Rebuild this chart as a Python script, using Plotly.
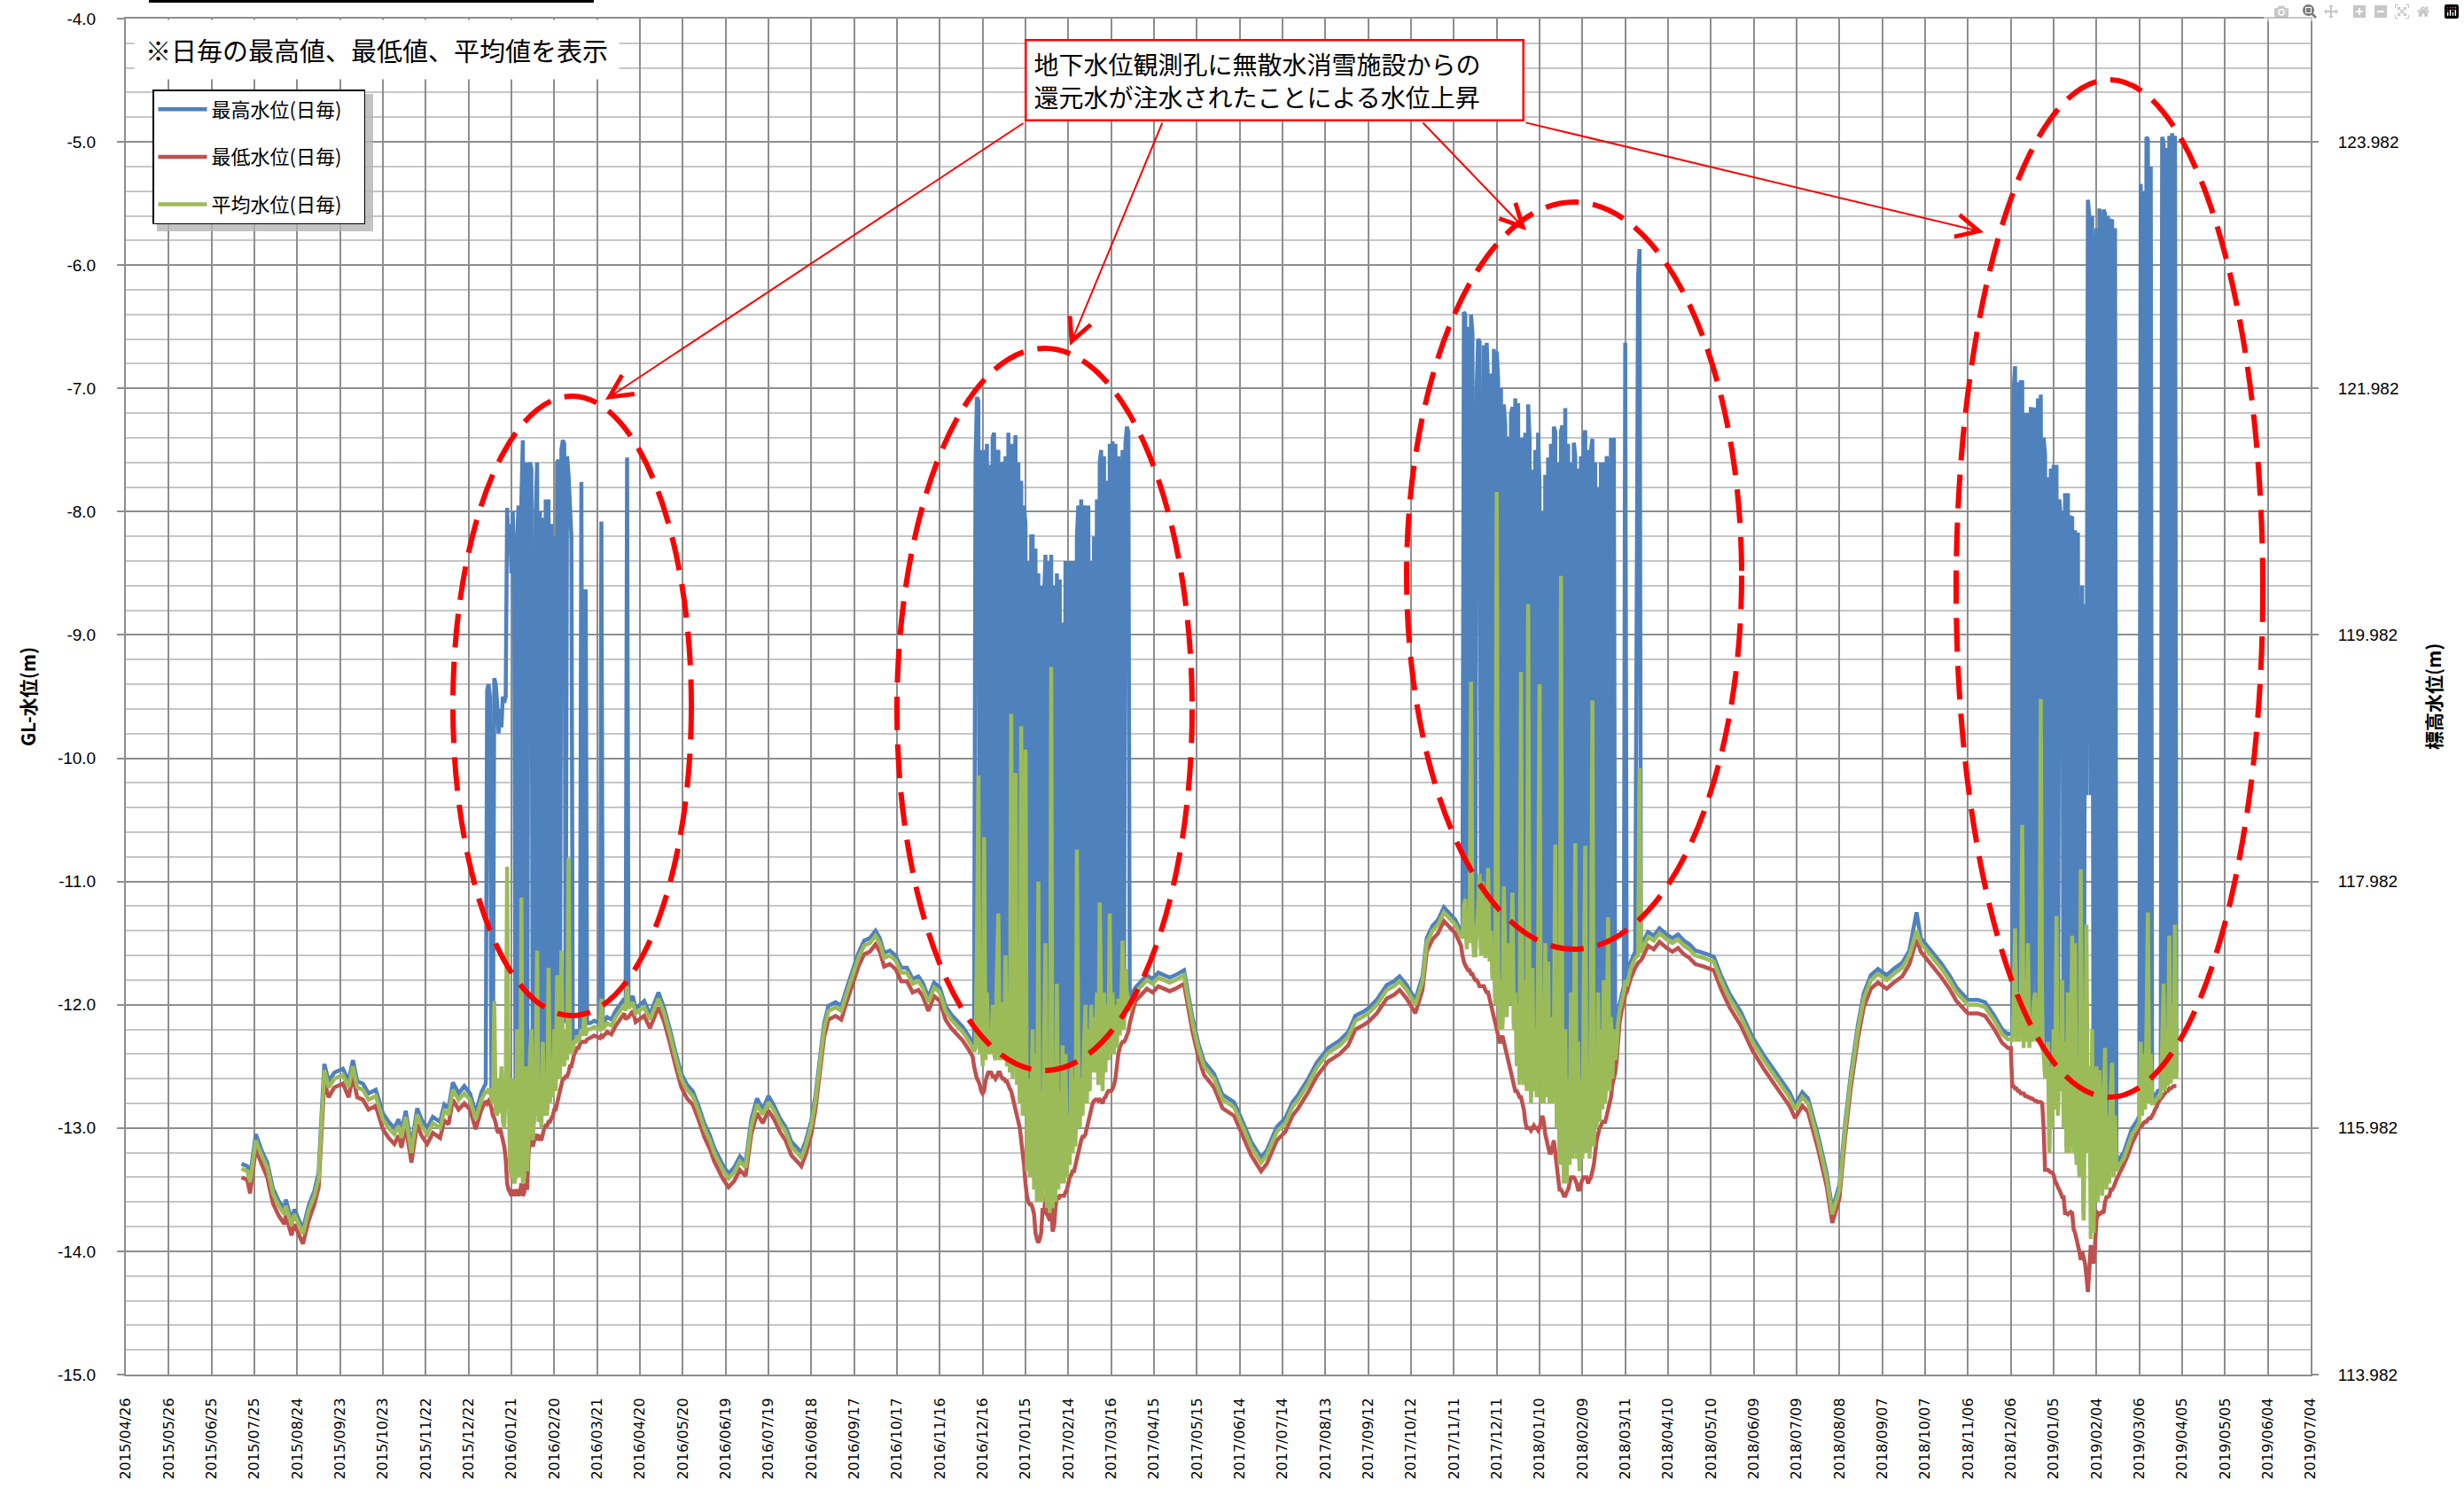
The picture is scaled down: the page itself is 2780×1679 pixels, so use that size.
import pandas as pd
import plotly.graph_objects as go

# ---------------- data (days counted from 2015/04/26) ----------------
BASE_DATE = "2015-04-26"
AXIS_END = "2019-07-04"

# calm period 2015/07 - 2016/01
days_a = [81, 85, 87, 91, 95, 99, 103, 107, 111, 112, 116, 118, 124, 128, 132, 135, 137, 139, 142, 146,
          152, 156, 159, 162, 166, 170, 175, 180, 184, 188, 191, 193, 196, 200, 204, 207, 211, 215, 220, 223,
          226, 229, 233, 237, 241, 245, 249]
max_a = [-13.29, -13.31, -13.39, -13.05, -13.18, -13.28, -13.49, -13.59, -13.66, -13.58, -13.75, -13.66, -13.82,
         -13.63, -13.51, -13.36, -12.90, -12.48, -12.62, -12.55, -12.52, -12.62, -12.45, -12.62, -12.64, -12.72,
         -12.69, -12.88, -12.95, -13.00, -12.93, -13.03, -12.86, -13.15, -12.84, -12.93, -13.00, -12.91, -12.95,
         -12.81, -12.84, -12.63, -12.72, -12.66, -12.72, -12.88, -12.71]
avg_a = [-13.33, -13.35, -13.44, -13.10, -13.22, -13.32, -13.53, -13.63, -13.70, -13.63, -13.79, -13.70, -13.86,
         -13.67, -13.55, -13.41, -12.96, -12.53, -12.67, -12.60, -12.57, -12.67, -12.50, -12.67, -12.69, -12.77,
         -12.74, -12.93, -13.00, -13.05, -12.98, -13.08, -12.91, -13.20, -12.89, -12.98, -13.05, -12.96, -13.00,
         -12.86, -12.89, -12.69, -12.77, -12.72, -12.77, -12.93, -12.77]
min_a = [-13.40, -13.42, -13.53, -13.17, -13.29, -13.40, -13.61, -13.71, -13.78, -13.71, -13.87, -13.78, -13.94,
         -13.75, -13.62, -13.48, -13.05, -12.62, -12.75, -12.67, -12.64, -12.75, -12.58, -12.75, -12.77, -12.85,
         -12.82, -13.01, -13.08, -13.13, -13.06, -13.16, -12.99, -13.28, -12.97, -13.06, -13.13, -13.04, -13.08,
         -12.94, -12.97, -12.77, -12.85, -12.80, -12.85, -13.01, -12.85]

# injection period 1 (2016/01 - 2016/04)
days_r1 = list(range(252, 324)) + [325, 328, 332, 333, 334, 337, 340, 343, 346, 349, 350, 351, 352]
max_r1 = [-12.64, -9.45, -9.40, -9.50, -12.68, -12.74, -9.35, -9.40, -9.55, -9.80,
          -9.60, -9.75, -9.50, -9.55, -9.50, -7.97, -8.30, -8.10, -8.50, -8.00,
          -8.83, -13.35, -8.20, -7.95, -13.25, -7.90, -7.42, -13.35, -7.60, -13.30,
          -7.65, -7.60, -7.65, -13.05, -12.85, -8.00, -7.60, -12.90, -8.00, -12.95,
          -8.05, -12.85, -7.90, -12.85, -7.90, -12.75, -8.10, -12.70, -8.20, -12.65,
          -7.60, -7.58, -12.55, -7.50, -7.42, -7.45, -12.15, -7.55, -7.70, -7.95,
          -8.20, -12.30, -12.25, -12.25, -12.20, -12.25, -12.20, -7.76, -12.20, -12.00,
          -8.63, -12.15,
          -12.15, -12.13, -12.15, -8.08, -12.15, -12.10, -12.12, -12.05, -12.00, -11.95, -12.00, -7.56, -11.98]
avg_r1 = [-12.70, -12.72, -12.68, -12.70, -12.75, -12.80, -11.97, -12.85, -12.90, -12.60,
          -12.88, -12.50, -12.95, -13.00, -12.70, -10.88, -12.60, -13.30, -13.40, -12.60,
          -13.45, -13.40, -12.20, -13.40, -13.30, -11.13, -13.45, -13.40, -12.50, -13.35,
          -13.10, -12.40, -12.20, -13.10, -12.90, -12.60, -11.56, -12.95, -12.80, -13.00,
          -12.30, -12.90, -12.70, -12.90, -11.70, -12.80, -12.50, -12.75, -12.20, -12.70,
          -11.76, -12.50, -12.60, -11.56, -12.40, -12.50, -12.20, -12.45, -10.81, -12.30,
          -12.40, -12.35, -12.30, -12.30, -12.25, -12.30, -12.25, -12.20, -12.25, -12.06,
          -12.25, -12.20,
          -12.20, -12.18, -12.20, -11.95, -12.20, -12.15, -12.17, -12.10, -12.05, -12.00, -12.05, -11.85, -12.03]
min_r1 = [-12.78, -12.80, -12.78, -12.80, -12.84, -12.90, -12.92, -12.96, -13.02, -13.04,
          -13.00, -13.05, -13.10, -13.15, -13.25, -13.45, -13.50, -13.52, -13.55, -13.50,
          -13.55, -13.52, -13.50, -13.55, -13.52, -13.45, -13.55, -13.52, -13.45, -13.50,
          -13.20, -13.10, -13.05, -13.15, -13.10, -13.08, -13.05, -13.10, -13.08, -13.10,
          -13.05, -13.00, -12.98, -12.98, -12.95, -12.95, -12.92, -12.90, -12.85, -12.85,
          -12.80, -12.75, -12.70, -12.65, -12.60, -12.60, -12.58, -12.58, -12.55, -12.50,
          -12.50, -12.45, -12.40, -12.38, -12.35, -12.35, -12.32, -12.30, -12.30, -12.30,
          -12.30, -12.28,
          -12.27, -12.25, -12.27, -12.25, -12.26, -12.22, -12.24, -12.17, -12.12, -12.07, -12.12, -12.10, -12.10]

# calm period 2016/04 - 2016/12
days_b = [355, 357, 363, 367, 373, 377, 381, 385, 389, 393, 397, 401, 405, 409, 412, 418, 422, 426, 430, 434,
          438, 442, 446, 450, 454, 458, 462, 466, 470, 473, 476, 480, 483, 486, 489, 492, 497, 501, 505, 509,
          513, 517, 521, 525, 528, 531, 535, 539, 543, 547, 551, 555, 558, 562, 566, 570, 574, 578, 582, 586,
          590, 593]
max_b = [-11.93, -12.03, -11.97, -12.08, -11.90, -12.03, -12.20, -12.39, -12.56, -12.65, -12.70, -12.82, -12.96,
         -13.06, -13.16, -13.30, -13.37, -13.32, -13.23, -13.28, -12.93, -12.76, -12.85, -12.74, -12.82, -12.92,
         -12.99, -13.11, -13.16, -13.20, -13.11, -12.94, -12.73, -12.44, -12.15, -12.01, -11.98, -12.01, -11.86,
         -11.72, -11.58, -11.48, -11.46, -11.40, -11.46, -11.58, -11.56, -11.60, -11.70, -11.70, -11.79, -11.77,
         -11.82, -11.94, -11.82, -11.86, -12.01, -12.08, -12.13, -12.18, -12.25, -12.31]
avg_b = [-11.98, -12.07, -12.02, -12.12, -11.95, -12.07, -12.24, -12.43, -12.60, -12.69, -12.74, -12.86, -13.00,
         -13.10, -13.20, -13.34, -13.41, -13.36, -13.27, -13.32, -12.98, -12.81, -12.89, -12.79, -12.86, -12.96,
         -13.03, -13.15, -13.20, -13.24, -13.15, -12.98, -12.77, -12.48, -12.19, -12.05, -12.02, -12.05, -11.90,
         -11.76, -11.62, -11.52, -11.50, -11.44, -11.50, -11.62, -11.60, -11.64, -11.74, -11.74, -11.83, -11.81,
         -11.86, -11.98, -11.86, -11.90, -12.05, -12.12, -12.17, -12.22, -12.29, -12.35]
min_b = [-12.05, -12.14, -12.09, -12.19, -12.02, -12.14, -12.31, -12.50, -12.67, -12.76, -12.81, -12.93, -13.07,
         -13.17, -13.27, -13.41, -13.48, -13.43, -13.34, -13.39, -13.05, -12.88, -12.96, -12.86, -12.93, -13.03,
         -13.10, -13.22, -13.27, -13.31, -13.22, -13.05, -12.84, -12.55, -12.26, -12.12, -12.09, -12.12, -11.97,
         -11.83, -11.69, -11.59, -11.57, -11.51, -11.57, -11.69, -11.67, -11.71, -11.81, -11.81, -11.90, -11.88,
         -11.93, -12.05, -11.93, -11.97, -12.12, -12.19, -12.24, -12.29, -12.36, -12.42]

# injection period 2 (2016/12 - 2017/03)
days_r2 = list(range(594, 704))
max_r2 = [-12.30, -7.60, -7.07, -7.10, -12.35, -7.50, -12.45, -7.50, -12.40, -7.45,
          -12.35, -7.62, -12.35, -7.40, -7.36, -12.40, -7.55, -7.50, -12.40, -7.60,
          -7.62, -12.40, -7.55, -12.45, -7.36, -12.50, -7.45, -12.50, -7.80, -7.38,
          -12.60, -7.60, -12.70, -7.75, -12.80, -7.95, -8.10, -13.25, -8.40, -13.30,
          -8.20, -8.20, -13.40, -8.30, -13.50, -8.50, -13.50, -8.60, -13.50, -8.70,
          -8.35, -13.55, -8.40, -13.60, -8.35, -13.55, -8.60, -13.50, -8.50, -13.40,
          -8.55, -13.35, -8.90, -13.35, -8.40, -13.30, -8.40, -13.20, -8.40, -13.10,
          -8.40, -13.05, -8.20, -7.95, -12.90, -7.90, -12.80, -7.95, -8.00, -12.70,
          -7.95, -12.60, -8.40, -12.45, -8.20, -12.45, -7.90, -12.55, -7.60, -7.50,
          -12.60, -7.55, -12.45, -7.75, -12.35, -7.45, -12.30, -7.43, -12.30, -7.45,
          -12.25, -7.55, -12.15, -8.00, -7.50, -12.10, -7.45, -7.31, -7.35, -11.95]
avg_r2 = [-12.38, -12.35, -11.50, -10.14, -12.40, -12.00, -12.50, -10.64, -12.45, -11.90,
          -12.40, -12.20, -12.40, -12.00, -12.40, -12.45, -11.70, -11.26, -12.45, -12.10,
          -11.98, -12.45, -11.60, -12.50, -11.90, -12.55, -9.64, -12.60, -11.80, -10.12,
          -12.65, -11.90, -12.80, -9.74, -12.90, -12.20, -9.93, -13.35, -12.60, -13.40,
          -12.90, -12.20, -13.50, -12.40, -13.60, -11.00, -13.60, -12.70, -13.60, -12.30,
          -11.50, -13.65, -12.80, -13.69, -9.26, -13.65, -12.50, -13.60, -11.83, -13.50,
          -12.70, -13.45, -12.33, -13.45, -12.40, -13.40, -12.90, -13.30, -12.50, -13.20,
          -12.60, -13.15, -10.74, -12.40, -13.00, -12.60, -12.90, -12.30, -12.00, -12.80,
          -12.20, -12.70, -12.00, -12.55, -12.10, -12.55, -11.90, -12.65, -11.17, -12.00,
          -12.70, -11.90, -12.55, -12.00, -12.45, -11.26, -12.40, -11.90, -12.40, -12.00,
          -12.35, -11.95, -12.25, -12.00, -11.48, -12.20, -11.71, -11.90, -11.95, -12.05]
min_r2 = [-12.50, -12.55, -12.60, -12.62, -12.65, -12.70, -12.72, -12.70, -12.62, -12.58,
          -12.55, -12.55, -12.55, -12.58, -12.58, -12.60, -12.58, -12.55, -12.55, -12.58,
          -12.60, -12.60, -12.62, -12.62, -12.65, -12.68, -12.70, -12.75, -12.80, -12.85,
          -12.90, -12.95, -13.00, -13.10, -13.20, -13.30, -13.45, -13.55, -13.60, -13.62,
          -13.62, -13.65, -13.70, -13.85, -13.90, -13.93, -13.90, -13.85, -13.65, -13.70,
          -13.55, -13.70, -13.72, -13.75, -13.60, -13.84, -13.80, -13.65, -13.55, -13.58,
          -13.55, -13.55, -13.55, -13.55, -13.52, -13.50, -13.45, -13.40, -13.38, -13.35,
          -13.35, -13.30, -13.25, -13.20, -13.15, -13.10, -13.07, -13.07, -13.05, -13.00,
          -12.95, -12.90, -12.85, -12.80, -12.78, -12.77, -12.77, -12.78, -12.77, -12.78,
          -12.80, -12.76, -12.75, -12.72, -12.70, -12.70, -12.70, -12.68, -12.65, -12.60,
          -12.50, -12.40, -12.35, -12.32, -12.30, -12.30, -12.28, -12.25, -12.22, -12.15]

# calm period 2017/04 - 2017/11
days_c = [707, 711, 715, 719, 723, 727, 731, 735, 741, 747, 751, 755, 762, 768, 776, 781, 788, 795, 799, 806,
          812, 817, 821, 828, 834, 842, 850, 856, 861, 866, 870, 876, 883, 888, 892, 897, 903, 908, 911, 915,
          919, 923, 927, 931, 935]
max_c = [-11.86, -11.81, -11.76, -11.79, -11.74, -11.76, -11.78, -11.76, -11.72, -12.11, -12.31, -12.46, -12.56,
         -12.73, -12.79, -12.92, -13.11, -13.24, -13.18, -12.99, -12.92, -12.79, -12.73, -12.60, -12.47, -12.35,
         -12.29, -12.22, -12.09, -12.06, -12.03, -11.96, -11.84, -11.81, -11.77, -11.84, -11.96, -11.77, -11.46,
         -11.36, -11.31, -11.21, -11.26, -11.31, -11.41]
avg_c = [-11.90, -11.85, -11.80, -11.83, -11.78, -11.80, -11.82, -11.80, -11.76, -12.15, -12.35, -12.50, -12.60,
         -12.77, -12.83, -12.96, -13.15, -13.28, -13.22, -13.03, -12.96, -12.83, -12.77, -12.64, -12.51, -12.39,
         -12.33, -12.26, -12.13, -12.10, -12.07, -12.00, -11.88, -11.85, -11.81, -11.88, -12.00, -11.81, -11.50,
         -11.40, -11.35, -11.25, -11.30, -11.35, -11.45]
min_c = [-11.97, -11.92, -11.87, -11.90, -11.85, -11.87, -11.89, -11.87, -11.83, -12.22, -12.42, -12.57, -12.67,
         -12.84, -12.90, -13.03, -13.22, -13.35, -13.29, -13.10, -13.03, -12.90, -12.84, -12.71, -12.58, -12.46,
         -12.40, -12.33, -12.20, -12.17, -12.14, -12.07, -11.95, -11.92, -11.88, -11.95, -12.07, -11.88, -11.57,
         -11.47, -11.42, -11.32, -11.37, -11.42, -11.52]

# injection period 3 (2017/11 - 2018/03)
days_r3 = list(range(936, 1052)) + [1054, 1057, 1059, 1060, 1061, 1062]
max_r3 = [-11.40, -6.38, -6.40, -11.50, -6.50, -11.45, -6.40, -6.55, -10.10, -11.45,
          -7.00, -6.60, -6.62, -11.55, -10.10, -6.65, -11.57, -6.63, -7.00, -11.60,
          -6.88, -11.75, -6.68, -11.95, -6.70, -6.93, -12.15, -7.00, -12.15, -7.13,
          -7.30, -12.05, -7.39, -11.95, -7.21, -7.15, -12.15, -7.08, -12.45, -7.12,
          -12.60, -7.50, -7.40, -12.60, -7.36, -12.65, -7.13, -7.40, -12.75, -7.66,
          -12.65, -7.50, -12.70, -7.36, -7.80, -12.75, -8.00, -11.95, -7.70, -12.70,
          -7.56, -12.75, -7.45, -12.75, -7.31, -7.35, -12.95, -7.60, -13.25, -7.35,
          -7.30, -13.40, -7.16, -13.40, -7.45, -13.25, -7.60, -13.20, -7.44, -7.55,
          -13.20, -7.65, -13.30, -7.55, -13.20, -7.40, -7.34, -13.15, -7.50, -13.20,
          -7.50, -7.41, -13.10, -7.60, -12.95, -7.80, -12.90, -7.60, -12.80, -7.60,
          -12.75, -7.55, -7.70, -12.65, -7.40, -12.55, -7.40, -12.40, -12.30, -12.10,
          -12.00, -11.95, -11.90, -11.85, -6.63, -11.80,
          -11.65, -11.57, -6.10, -5.87, -11.53, -11.50]
avg_r3 = [-11.45, -11.20, -11.14, -11.55, -11.30, -11.50, -9.38, -11.30, -11.60, -11.60,
          -11.40, -11.20, -10.94, -11.60, -11.00, -11.30, -11.62, -11.40, -10.89, -11.65,
          -11.40, -11.80, -11.60, -12.00, -7.84, -11.70, -12.20, -11.80, -12.20, -11.04,
          -11.60, -12.10, -11.50, -12.00, -11.60, -11.09, -12.20, -11.90, -12.50, -12.00,
          -12.65, -9.30, -12.10, -12.65, -11.80, -12.70, -8.75, -12.10, -12.80, -11.70,
          -12.70, -12.20, -12.75, -11.60, -9.40, -12.80, -12.00, -12.80, -11.50, -12.75,
          -11.65, -12.80, -12.10, -12.80, -12.30, -10.70, -13.00, -12.40, -13.30, -8.52,
          -12.50, -13.45, -12.20, -13.45, -12.60, -13.30, -11.90, -13.25, -12.40, -10.69,
          -13.25, -12.30, -13.35, -12.60, -13.25, -11.80, -10.71, -13.20, -12.50, -13.25,
          -12.00, -9.53, -13.15, -12.40, -13.00, -11.90, -12.95, -12.20, -12.85, -11.80,
          -12.80, -12.30, -11.29, -12.70, -12.10, -12.60, -12.20, -12.45, -12.35, -12.15,
          -12.05, -12.00, -11.95, -11.90, -11.80, -11.85,
          -11.70, -11.62, -11.60, -10.08, -11.58, -11.55]
min_r3 = [-11.60, -11.65, -11.68, -11.70, -11.72, -11.72, -11.75, -11.75, -11.78, -11.80,
          -11.80, -11.82, -11.85, -11.85, -11.85, -11.85, -11.88, -11.90, -11.90, -11.95,
          -12.00, -12.05, -12.10, -12.15, -12.20, -12.25, -12.30, -12.30, -12.25, -12.30,
          -12.35, -12.40, -12.45, -12.50, -12.55, -12.60, -12.65, -12.70, -12.70, -12.72,
          -12.75, -12.75, -12.80, -12.85, -12.95, -13.00, -13.00, -13.00, -13.02, -13.00,
          -12.98, -13.00, -13.00, -13.02, -13.00, -12.95, -12.90, -12.95, -13.05, -13.10,
          -13.15, -13.20, -13.20, -13.15, -13.10, -13.20, -13.30, -13.40, -13.50, -13.50,
          -13.52, -13.55, -13.55, -13.52, -13.50, -13.45, -13.40, -13.40, -13.40, -13.42,
          -13.45, -13.50, -13.50, -13.45, -13.42, -13.40, -13.40, -13.40, -13.45, -13.42,
          -13.40, -13.35, -13.30, -13.20, -13.10, -13.05, -13.00, -12.98, -12.95, -12.95,
          -12.95, -12.90, -12.85, -12.80, -12.75, -12.65, -12.60, -12.55, -12.45, -12.30,
          -12.15, -12.08, -12.02, -11.98, -11.92, -11.90,
          -11.78, -11.70, -11.66, -11.65, -11.64, -11.62]

# calm period 2018/03 - 2018/12
days_d = [1066, 1070, 1074, 1079, 1083, 1087, 1091, 1095, 1099, 1105, 1112, 1117, 1123, 1131, 1139, 1147, 1156,
          1165, 1169, 1174, 1178, 1185, 1191, 1195, 1200, 1204, 1208, 1213, 1217, 1222, 1227, 1233, 1238, 1244,
          1249, 1254, 1257, 1264, 1271, 1277, 1282, 1290, 1297, 1302, 1308, 1314, 1318]
max_d = [-11.41, -11.44, -11.38, -11.43, -11.46, -11.43, -11.48, -11.51, -11.56, -11.58, -11.61, -11.76, -11.91,
         -12.06, -12.26, -12.41, -12.56, -12.71, -12.81, -12.71, -12.76, -13.06, -13.36, -13.66, -13.46, -12.96,
         -12.56, -12.16, -11.91, -11.76, -11.71, -11.76, -11.71, -11.66, -11.56, -11.25, -11.46, -11.56, -11.66,
         -11.76, -11.86, -11.96, -11.96, -11.98, -12.08, -12.20, -12.24]
avg_d = [-11.45, -11.48, -11.42, -11.47, -11.50, -11.47, -11.52, -11.55, -11.60, -11.62, -11.65, -11.80, -11.95,
         -12.10, -12.30, -12.45, -12.60, -12.75, -12.85, -12.75, -12.80, -13.10, -13.40, -13.70, -13.50, -13.00,
         -12.60, -12.20, -11.95, -11.80, -11.75, -11.80, -11.75, -11.70, -11.60, -11.40, -11.50, -11.60, -11.70,
         -11.80, -11.90, -12.00, -12.00, -12.02, -12.12, -12.24, -12.28]
min_d = [-11.52, -11.55, -11.49, -11.54, -11.57, -11.54, -11.59, -11.62, -11.67, -11.69, -11.72, -11.87, -12.02,
         -12.17, -12.37, -12.52, -12.67, -12.82, -12.92, -12.82, -12.87, -13.17, -13.47, -13.77, -13.57, -13.07,
         -12.67, -12.27, -12.02, -11.87, -11.82, -11.87, -11.82, -11.77, -11.67, -11.47, -11.57, -11.67, -11.77,
         -11.87, -11.97, -12.07, -12.07, -12.09, -12.19, -12.31, -12.35]

# injection period 4 (2018/12 - 2019/04)
days_r4 = list(range(1320, 1395)) + [1396, 1399, 1402, 1405, 1408] + list(range(1410, 1437))
max_r4 = [-12.23, -12.25, -7.00, -6.82, -12.25, -6.95, -12.25, -6.95, -6.95, -12.30,
          -7.20, -12.25, -7.20, -12.30, -7.15, -12.25, -7.17, -7.17, -12.25, -7.08,
          -12.25, -7.05, -12.30, -7.40, -7.53, -12.40, -7.72, -13.15, -7.65, -12.95,
          -7.62, -12.80, -7.62, -12.85, -7.90, -8.04, -8.00, -12.90, -7.85, -13.15,
          -7.85, -13.15, -8.05, -8.04, -13.15, -8.15, -13.25, -8.17, -13.35, -9.80,
          -8.60, -13.70, -8.75, -10.30, -5.47, -5.60, -10.30, -5.60, -13.80, -6.10,
          -5.70, -13.55, -5.54, -5.89, -13.50, -5.55, -5.58, -13.45, -5.60, -13.40,
          -5.65, -5.63, -13.35, -5.70, -13.30,
          -13.25, -13.20, -13.10, -13.00, -12.95,
          -12.90, -5.34, -12.85, -5.40, -12.80, -4.96, -4.98, -12.75, -5.20, -12.75,
          -12.75, -12.73, -12.72, -12.70, -12.70, -12.68, -4.96, -5.00, -12.65, -5.05,
          -12.61, -4.95, -12.59, -4.93, -12.55, -4.95, -12.55]
avg_r4 = [-12.28, -12.30, -12.00, -11.38, -12.30, -11.90, -12.30, -12.00, -10.54, -12.35,
          -11.80, -12.30, -11.50, -12.35, -12.10, -12.30, -12.00, -11.90, -12.30, -11.95,
          -12.30, -9.52, -12.35, -12.40, -12.60, -12.45, -12.30, -13.20, -12.50, -13.00,
          -12.20, -12.85, -11.28, -12.90, -12.40, -12.70, -11.80, -13.00, -12.30, -13.20,
          -11.90, -13.20, -12.50, -11.44, -13.20, -11.50, -13.30, -12.40, -13.40, -10.90,
          -12.80, -13.75, -12.60, -11.35, -13.20, -12.50, -13.90, -12.20, -13.85, -12.90,
          -12.50, -13.60, -12.53, -13.00, -13.55, -12.80, -12.35, -13.50, -12.90, -13.45,
          -12.70, -12.47, -13.40, -12.90, -13.35,
          -13.30, -13.25, -13.15, -13.05, -13.00,
          -12.95, -12.30, -12.90, -12.40, -12.85, -12.20, -11.25, -12.80, -12.40, -12.80,
          -12.80, -12.78, -12.77, -12.75, -12.75, -12.73, -12.30, -11.83, -12.70, -12.20,
          -12.66, -11.44, -12.64, -12.00, -12.60, -11.35, -12.60]
min_r4 = [-12.35, -12.66, -12.66, -12.68, -12.68, -12.70, -12.70, -12.72, -12.72, -12.72,
          -12.74, -12.74, -12.75, -12.75, -12.76, -12.76, -12.77, -12.78, -12.78, -12.79,
          -12.79, -12.79, -12.80, -13.00, -13.34, -13.34, -13.34, -13.35, -13.36, -13.36,
          -13.38, -13.43, -13.45, -13.48, -13.50, -13.53, -13.56, -13.56, -13.69, -13.69,
          -13.70, -13.69, -13.68, -13.69, -13.82, -13.85, -13.90, -13.95, -14.00, -14.07,
          -14.00, -14.05, -14.10, -14.20, -14.33, -14.15, -13.95, -14.05, -14.10, -13.95,
          -13.75, -13.69, -13.70, -13.69, -13.68, -13.69, -13.60, -13.56, -13.56, -13.55,
          -13.50, -13.50, -13.48, -13.45, -13.42,
          -13.37, -13.30, -13.22, -13.12, -13.05,
          -13.00, -12.98, -12.98, -12.96, -12.95, -12.95, -12.93, -12.92, -12.92, -12.90,
          -12.88, -12.85, -12.83, -12.80, -12.78, -12.76, -12.75, -12.73, -12.72, -12.70,
          -12.70, -12.68, -12.68, -12.67, -12.66, -12.66, -12.66]

# axis labels
left_ticks = [-15, -14, -13, -12, -11, -10, -9, -8, -7, -6, -5, -4]
right_ticks = [113.982, 115.982, 117.982, 119.982, 121.982, 123.982]
ELEV_OFFSET = 128.982  # 標高 = GL水位 + 128.982

series_names = ["最高水位(日毎)", "最低水位(日毎)", "平均水位(日毎)"]
series_colors = ["#4F81BD", "#C0504D", "#9BBB59"]

# ---------------- assemble ----------------
parts = [(days_a, max_a, avg_a, min_a), (days_r1, max_r1, avg_r1, min_r1), (days_b, max_b, avg_b, min_b),
         (days_r2, max_r2, avg_r2, min_r2), (days_c, max_c, avg_c, min_c), (days_r3, max_r3, avg_r3, min_r3),
         (days_d, max_d, avg_d, min_d), (days_r4, max_r4, avg_r4, min_r4)]
days, max_level, avg_level, min_level = [], [], [], []
for d, mx, av, mn in parts:
    assert len(d) == len(mx) == len(av) == len(mn), (len(d), len(mx), len(av), len(mn))
    days += d
    max_level += mx
    avg_level += av
    min_level += mn

base = pd.Timestamp(BASE_DATE)
x = base + pd.to_timedelta(days, unit="D")

W, H = 2780, 1679
L, R, T, B = 142, 2607, 21, 1551


def px(v):
    return (v - L) / (R - L)


def py(v):
    return (B - v) / (B - T)


NB = "\u00a0"
fig = go.Figure()
for name, col, vals in zip(series_names, series_colors, [max_level, min_level, avg_level]):
    fig.add_trace(go.Scatter(x=x, y=vals, mode="lines", name=name + NB * 4, legendgroup=name,
                             line=dict(color=col, width=4.5, simplify=False), hoverinfo="skip"))
# helper trace for the right (elevation) axis
fig.add_trace(go.Scatter(x=x, y=[v + ELEV_OFFSET for v in avg_level], yaxis="y2", mode="lines",
                         line=dict(width=0), opacity=0, showlegend=False, hoverinfo="skip"))

GRID = "#8E8E8E"
MINOR = "#C6C6C6"
fig.update_layout(
    width=W, height=H,
    margin=dict(l=L, r=W - R, t=T, b=H - B, autoexpand=False),
    paper_bgcolor="white", plot_bgcolor="white",
    font=dict(family="Liberation Sans", color="black"),
    xaxis=dict(type="date", range=[BASE_DATE, AXIS_END], tick0=BASE_DATE, dtick=30 * 86400000,
               tickformat="%Y/%m/%d", tickangle=-90, showgrid=True, gridcolor=GRID, gridwidth=1.5,
               showline=True, linecolor=GRID, linewidth=2, mirror=True, ticks="",
               tickfont=dict(family="DejaVu Sans", size=16, color="black"), ticklabelstandoff=18,
               zeroline=False),
    yaxis=dict(range=[-15, -4], tickmode="array", tickvals=left_ticks,
               ticktext=[f"{v:.1f}" for v in left_ticks], showgrid=True, gridcolor=GRID, gridwidth=1.5,
               minor=dict(dtick=0.2, showgrid=True, gridcolor=MINOR, gridwidth=1.5),
               showline=True, linecolor=GRID, linewidth=2, mirror=True, ticks="outside", ticklen=8,
               tickcolor=GRID, tickwidth=1.5, tickfont=dict(family="Liberation Sans", size=19, color="black"),
               ticklabelstandoff=20, zeroline=False),
    yaxis2=dict(range=[-15 + ELEV_OFFSET, -4 + ELEV_OFFSET], overlaying="y", side="right",
                tickmode="array", tickvals=right_ticks, ticktext=[f"{v:.3f}" for v in right_ticks],
                showgrid=False, zeroline=False, showline=False, ticks="outside", ticklen=8,
                tickcolor=GRID, tickwidth=1.5, tickfont=dict(family="Liberation Sans", size=19, color="black"),
                ticklabelstandoff=18),
    legend=dict(x=px(172), y=py(101), xanchor="left", yanchor="top", bgcolor="white",
                bordercolor="black", borderwidth=1.5, font=dict(family="Noto Sans CJK JP", size=22),
                tracegroupgap=22, itemwidth=55),
    showlegend=True,
)

RED = "#FF0000"
ellipses = [(511, 447, 780, 1146), (1012, 393, 1345, 1208), (1587, 228, 1965, 1071), (2207, 90, 2553, 1238)]
shapes = []
for x0, y0, x1, y1 in ellipses:
    shapes.append(dict(type="circle", xref="paper", yref="paper", x0=px(x0), x1=px(x1), y0=py(y1), y1=py(y0),
                       line=dict(color=RED, width=6, dash="38px,16px"), layer="above"))
# black rule at the very top
shapes.append(dict(type="line", xref="paper", yref="paper", x0=px(168), x1=px(670), y0=py(1.5), y1=py(1.5),
                   line=dict(color="black", width=3)))
# legend shadow
shapes.append(dict(type="rect", xref="paper", yref="paper", x0=px(177), x1=px(421), y0=py(261), y1=py(106),
                   fillcolor="#b4b4b4", line=dict(width=0), opacity=0.8, layer="above"))
fig.update_layout(shapes=shapes)

ann = []
ann.append(dict(text="※日毎の最高値、最低値、平均値を表示", xref="paper", yref="paper", x=px(151), y=py(22),
                xanchor="left", yanchor="top", showarrow=False, bgcolor="white", borderpad=12, align="left",
                font=dict(family="Noto Sans CJK JP", size=29, color="black")))
ann.append(dict(text="地下水位観測孔に無散水消雪施設からの<br>還元水が注水されたことによる水位上昇",
                xref="paper", yref="paper", x=px(1156), y=py(44), xanchor="left", yanchor="top",
                showarrow=False, bgcolor="white", bordercolor=RED, borderwidth=2.5, borderpad=8,
                width=543, height=72, align="left",
                font=dict(family="Noto Sans CJK JP", size=28, color="black")))
arrows = [((1156, 138), (683, 451)), ((1312, 137), (1207, 390)), ((1604, 137), (1722, 260)),
          ((1720, 138), (2238, 262))]
for (tx, ty), (hx, hy) in arrows:
    ann.append(dict(text="", xref="paper", yref="paper", x=px(hx), y=py(hy), ax=tx - hx, ay=ty - hy,
                    showarrow=True, arrowcolor=RED, arrowwidth=2, arrowhead=5, arrowsize=2.5, standoff=0))
ann.append(dict(text="<b>GL-水位(m)</b>", xref="paper", yref="paper", x=px(31), y=0.5, textangle=-90,
                xanchor="center", yanchor="middle", showarrow=False,
                font=dict(family="Noto Sans CJK JP", size=21, color="black")))
ann.append(dict(text="<b>標高水位(m)</b>", xref="paper", yref="paper", x=px(2745), y=0.5, textangle=-90,
                xanchor="center", yanchor="middle", showarrow=False,
                font=dict(family="Noto Sans CJK JP", size=21, color="black")))
fig.update_layout(annotations=ann)

fig.write_html("out.html", post_script="document.body.style.margin='0px';")
